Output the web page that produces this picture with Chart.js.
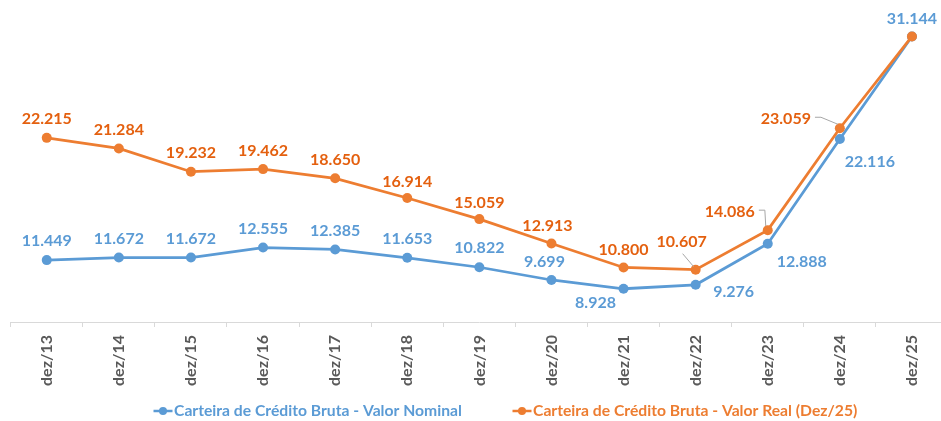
<!DOCTYPE html>
<html><head><meta charset="utf-8">
<script src="https://cdn.jsdelivr.net/npm/chart.js@4/dist/chart.umd.min.js"></script>
<style>html,body{margin:0;padding:0;background:#fff;overflow:hidden;width:941px;height:421px}#wrap{width:948px;height:421px}</style>
</head><body><div id="wrap"><canvas id="c"></canvas></div>
<script>
const categories = ['dez/13','dez/14','dez/15','dez/16','dez/17','dez/18','dez/19','dez/20','dez/21','dez/22','dez/23','dez/24','dez/25'];
const nominal = [11.449, 11.672, 11.672, 12.555, 12.385, 11.653, 10.822, 9.699, 8.928, 9.276, 12.888, 22.116, 31.144];
const real = [22.215, 21.284, 19.232, 19.462, 18.650, 16.914, 15.059, 12.913, 10.800, 10.607, 14.086, 23.059, 31.144];
const seriesNames = ['Carteira de Crédito Bruta - Valor Nominal', 'Carteira de Crédito Bruta - Valor Real (Dez/25)'];

const BLUE = '#5B9BD5', ORANGE = '#ED7D31', ORANGE_TXT = '#E4600F';
const FONT = 'Lato, "Open Sans", sans-serif';

// label placement (style only): [dx, dy, leaderType]
const nomLabelPos = [[0,-19],[0,-19],[0,-19],[0,-19],[0,-19],[0,-19],[0,-19],[-7,-18],[-28,14],[38,7],[34,18],[30,23],[0,-18]];
const realLabelPos = [[0,-19],[0,-19],[0,-19],[0,-18],[0,-18],[0,-16],[0,-16],[-4,-18],[0,-18],[-14,-28,1],[-38,-18,2],[-54,-9,3],null];
// legend placement (style only): [markerCenterX, y]
const legendPos = [[163, 411], [522, 411]];

function fmt(v){ return v.toFixed(3); }

const labelsPlugin = {
  id: 'valueLabels',
  afterDatasetsDraw(chart){
    const ctx = chart.ctx;
    ctx.save();
    ctx.font = 'bold 16px ' + FONT;
    ctx.textAlign = 'center';
    ctx.textBaseline = 'middle';
    const sets = [[0, nomLabelPos, BLUE], [1, realLabelPos, ORANGE_TXT]];
    for (const [di, pos, col] of sets){
      const meta = chart.getDatasetMeta(di);
      const data = chart.data.datasets[di].data;
      meta.data.forEach((pt, i) => {
        const p = pos[i];
        if (!p) return;
        const x = pt.x + p[0], y = pt.y + p[1];
        if (p[2]) {
          ctx.strokeStyle = '#A6A6A6'; ctx.lineWidth = 1;
          ctx.beginPath();
          const w = ctx.measureText(fmt(data[i])).width;
          if (p[2] === 1) { ctx.moveTo(x+1, y+12); ctx.lineTo(pt.x-2, pt.y-3); }
          else { ctx.moveTo(x + w/2 + 4, y - 2); ctx.lineTo(x + w/2 + 10, y - 2); ctx.lineTo(pt.x - 2, pt.y - 4); }
          ctx.stroke();
        }
        ctx.fillStyle = col;
        ctx.fillText(fmt(data[i]), x, y);
      });
    }
    ctx.restore();
  }
};

const legendPlugin = {
  id: 'customLegend',
  afterDraw(chart){
    const ctx = chart.ctx;
    ctx.save();
    ctx.font = 'bold 15.7px ' + FONT;
    ctx.textBaseline = 'middle';
    ctx.textAlign = 'left';
    chart.data.datasets.forEach((ds, i) => {
      const [cx, cy] = legendPos[i];
      ctx.strokeStyle = ds.borderColor; ctx.lineWidth = 2.5;
      ctx.beginPath(); ctx.moveTo(cx - 9.5, cy); ctx.lineTo(cx + 9.5, cy); ctx.stroke();
      ctx.fillStyle = ds.borderColor;
      ctx.beginPath(); ctx.arc(cx, cy, 4, 0, Math.PI*2); ctx.fill();
      ctx.fillStyle = ds.borderColor;
      ctx.fillText(ds.label, cx + 11, cy);
    });
    ctx.restore();
  }
};

new Chart(document.getElementById('c'), {
  type: 'line',
  data: {
    labels: categories,
    datasets: [
      { label: seriesNames[0], data: nominal, borderColor: BLUE, backgroundColor: BLUE, borderWidth: 2.75, pointRadius: 5, pointHoverRadius: 5, pointBorderWidth: 0, pointStyle: 'circle', order: 1, tension: 0, clip: false },
      { label: seriesNames[1], data: real, borderColor: ORANGE, backgroundColor: ORANGE, borderWidth: 2.75, pointRadius: 5, pointHoverRadius: 5, pointBorderWidth: 0, pointStyle: 'circle', order: 0, tension: 0, clip: false }
    ]
  },
  options: {
    responsive: true, maintainAspectRatio: false, animation: false,
    layout: { autoPadding: false, padding: { left: 10.7, right: 0, top: 4, bottom: 35 } },
    scales: {
      x: {
        offset: true,
        afterFit(scale){ scale.height = 64; scale.paddingLeft = 0; scale.paddingRight = 0; },
        grid: { display: true, drawOnChartArea: false, drawTicks: true, tickLength: 5, color: '#D9D9D9', offset: true },
        border: { display: true, color: '#D9D9D9' },
        ticks: { maxRotation: 90, minRotation: 90, color: '#595959', font: { family: FONT, size: 16, weight: 'bold' }, padding: 8 }
      },
      y: { display: false, min: 6, max: 34 }
    },
    plugins: {
      legend: { display: false },
      tooltip: { enabled: false }
    }
  },
  plugins: [labelsPlugin, legendPlugin]
});
</script></body></html>
